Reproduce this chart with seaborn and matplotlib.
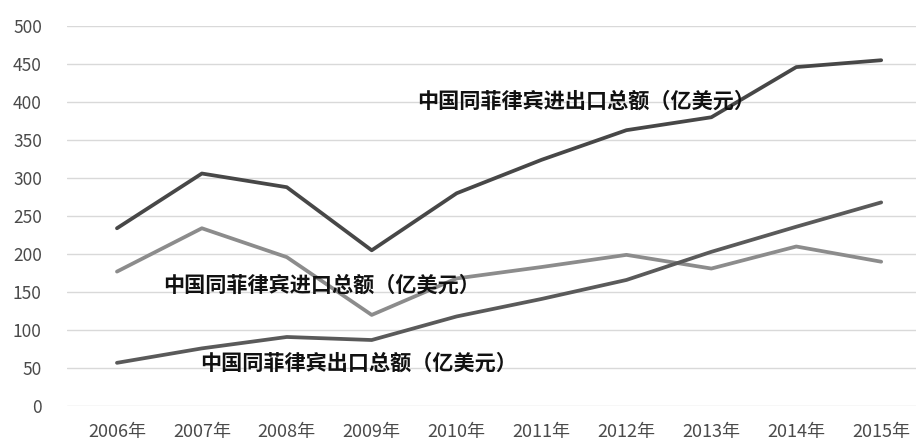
import pandas as pd
import numpy as np
import matplotlib
matplotlib.use("Agg")
import matplotlib.pyplot as plt
import seaborn as sns

# data (亿美元)
years = ['2006年', '2007年', '2008年', '2009年', '2010年',
         '2011年', '2012年', '2013年', '2014年', '2015年']
total = [234, 306, 288, 205, 280, 324, 363, 380, 446, 455]
imports = [177, 234, 196, 120, 168, 183, 199, 181, 210, 190]
exports = [57, 76, 91, 87, 118, 141, 166, 203, 236, 268]

series_names = ['中国同菲律宾进出口总额（亿美元）',
                '中国同菲律宾进口总额（亿美元）',
                '中国同菲律宾出口总额（亿美元）']
series_colors = ['#474747', '#8c8c8c', '#5a5a5a']

sns.set_theme(style="white")
plt.rcParams['font.family'] = ['Noto Sans CJK SC', 'DejaVu Sans']

df = pd.DataFrame({'year': years * 3,
                   'pos': list(range(len(years))) * 3,
                   'value': total + imports + exports,
                   'series': [series_names[0]] * 10 + [series_names[1]] * 10 + [series_names[2]] * 10})

fig = plt.figure(figsize=(9.16, 4.41), dpi=100)
ax = fig.add_axes([0.073, 0.079, 0.927, 0.862])

sns.lineplot(data=df, x='pos', y='value', hue='series', palette=series_colors,
             linewidth=2.7, legend=False, ax=ax, zorder=3)

ax.set_ylim(0, 500)
ax.set_xlim(-0.59, 9.41)
ax.set_yticks(np.arange(0, 501, 50))
ax.set_xticks(range(len(years)))
ax.set_xticklabels(years)
ax.set_xlabel('')
ax.set_ylabel('')
ax.grid(axis='y', color='#d9d9d9', linewidth=1)
ax.grid(axis='x', visible=False)
for s in ax.spines.values():
    s.set_visible(False)
ax.tick_params(axis='both', length=0, colors='#4a4a4a')
ax.tick_params(axis='y', pad=18, labelsize=12.5)
ax.tick_params(axis='x', pad=12, labelsize=13)

# in-plot series labels (left edge positions)
label_pos = [(3.53, 401), (0.54, 159), (0.98, 57)]
for name, (lx, ly) in zip(series_names, label_pos):
    ax.text(lx, ly, name, ha='left', va='center', fontsize=15.2,
            fontweight='bold', color='#111111', zorder=4)

fig.savefig('out.png', dpi=100)
